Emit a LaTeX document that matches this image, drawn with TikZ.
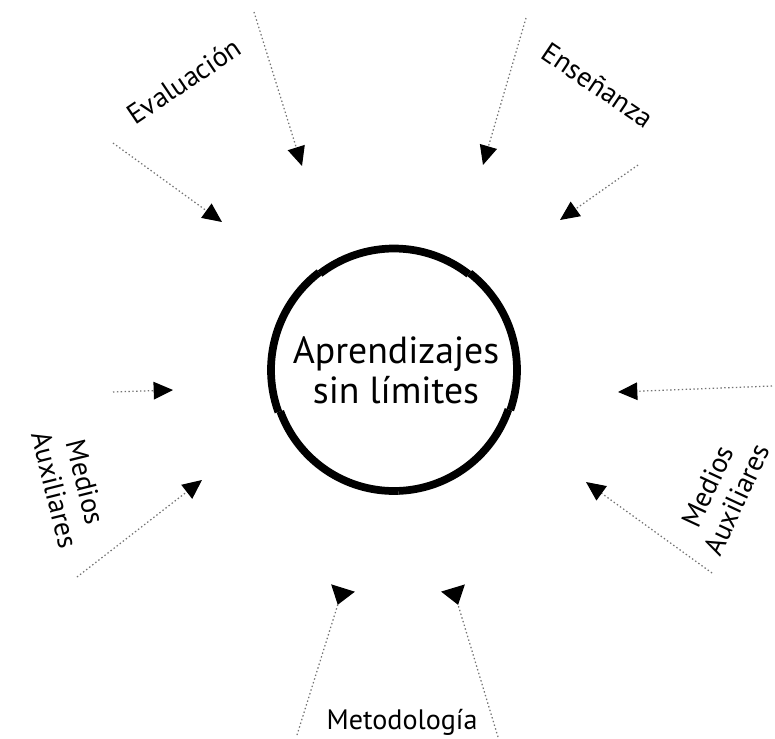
\documentclass[tikz,border=0pt]{standalone}
\usepackage{fontspec}
\setmainfont{PT Sans}
\usetikzlibrary{arrows.meta}
\begin{document}
\begin{tikzpicture}[x=0.02cm,y=-0.02cm,
  flow/.style={draw=black!55, line width=0.7pt, dash pattern=on 0.8pt off 1.4pt,
    -{Triangle[length=11pt,width=10pt,color=black]}},
  flowrev/.style={draw=black!55, line width=0.7pt, dash pattern=on 0.8pt off 1.4pt,
    -{Triangle[reversed,length=10pt,width=14pt,color=black]}},
  lbl/.style={font=\fontsize{16pt}{18pt}\selectfont, align=center, inner sep=0pt},
  ring/.style={line width=4.4pt, line cap=butt}
]
\useasboundingbox (0,0) rectangle (775,738);
\fill[white] (0,0) rectangle (775,738);

% centre
\node[font=\fontsize{21.5pt}{23pt}\selectfont, align=center, inner sep=0pt] (center) at (396,370) {Aprendizajes\\sin límites};
\coordinate (c) at (394,370);
\foreach \a/\b/\r in {-88/-19/121, -19/52/123, 52/127.5/121.5, 127.5/200/123, 200/272/121}{
  \draw[ring] plot[domain=\a:\b, samples=40] ({394+\r*cos(\x)},{370-\r*sin(\x)});
}

% labels
\node[lbl, rotate=65] (medR) at (722,493) {Medios\\Auxiliares};
\node[lbl, rotate=34] (eval) at (184,81) {Evaluación};
\node[lbl, rotate=-34] (ens) at (598,85) {Enseñanza};
\node[lbl, rotate=-76] (medL) at (70,486) {Medios\\Auxiliares};
\node[lbl] (met) at (402,722) {Metodología};

% arrow end points
\coordinate (s1) at (254,12);  \coordinate (e1) at (302,166);
\coordinate (s2) at (113,143); \coordinate (e2) at (222,222);
\coordinate (s3) at (526,18);  \coordinate (e3) at (483,165);
\coordinate (s4) at (638,165); \coordinate (e4) at (560,220);
\coordinate (s5) at (772,386); \coordinate (e5) at (618,392);
\coordinate (s6) at (712,573); \coordinate (e6) at (586,482);
\coordinate (s7) at (113,392); \coordinate (e7) at (173,390);
\coordinate (s8) at (77,577);  \coordinate (e8) at (202,480);
\coordinate (s9) at (297,735); \coordinate (e9) at (343,588);
\coordinate (s10) at (498,737); \coordinate (e10) at (453,588);

\foreach \i in {1,...,8}{ \draw[flow] (s\i) -- (e\i); }
\draw[flowrev] (s9) -- (e9);
\draw[flowrev] (s10) -- (e10);
\end{tikzpicture}
\end{document}
